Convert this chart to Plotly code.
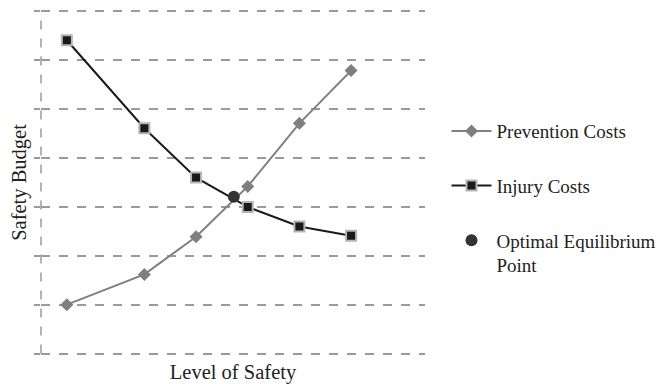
import plotly.graph_objects as go

level = [1, 2.5, 3.5, 4.5, 5.5, 6.5]
prevention_costs = [1.0, 1.62, 2.39, 3.42, 4.71, 5.79]
injury_costs = [6.41, 4.61, 3.6, 3.0, 2.6, 2.41]
equilibrium_x = [4.23]
equilibrium_y = [3.21]
budget_ticks = [0, 1, 2, 3, 4, 5, 6, 7]

FONT = "Liberation Serif"
GRID = "#9a9a9a"

fig = go.Figure()
fig.add_trace(go.Scatter(
    x=level, y=prevention_costs, name="Prevention Costs", mode="lines+markers",
    line=dict(color="#7f7f7f", width=2),
    marker=dict(symbol="diamond", size=10, color="#7f7f7f"),
    legendgroup="a"))
fig.add_trace(go.Scatter(
    x=level, y=injury_costs, name="Injury Costs", mode="lines+markers",
    line=dict(color="#1a1a1a", width=2),
    marker=dict(symbol="square", size=10, color="#1a1a1a",
                line=dict(color="#b5b5b5", width=2)),
    legendgroup="b"))
fig.add_trace(go.Scatter(
    x=equilibrium_x, y=equilibrium_y, name="Optimal Equilibrium<br>Point", mode="markers",
    marker=dict(symbol="circle", size=12, color="#333333"),
    legendgroup="c"))

fig.add_shape(type="line", xref="paper", yref="y", x0=0, x1=0,
              y0=budget_ticks[0], y1=budget_ticks[-1],
              line=dict(color=GRID, width=1.5, dash="dash"))

fig.update_layout(
    width=657, height=376,
    margin=dict(l=33, r=240, t=1, b=28, autoexpand=False),
    plot_bgcolor="white", paper_bgcolor="white",
    font=dict(family=FONT, size=19, color="#222222"),
    showlegend=True,
    legend=dict(x=1.056, y=0.703, xanchor="left", yanchor="top",
                tracegroupgap=27, valign="top", itemwidth=40,
                font=dict(family=FONT, size=19, color="#222222")),
    xaxis=dict(range=[0.5, 7.93], showgrid=False, zeroline=False, showline=False,
               showticklabels=False, ticks="", automargin=False,
               title=dict(text="Level of Safety", standoff=9,
                          font=dict(family=FONT, size=20.5))),
    yaxis=dict(range=[-0.05, 7.05], tickvals=budget_ticks,
               showgrid=True, gridcolor=GRID, gridwidth=1.5,
               griddash="dash", zeroline=False, showline=False, showticklabels=False,
               ticks="outside", ticklen=6, tickcolor=GRID, tickwidth=1.5, automargin=False,
               title=dict(text="Safety Budget", standoff=1,
                          font=dict(family=FONT, size=20.5))),
)

fig.write_html("out.html")
